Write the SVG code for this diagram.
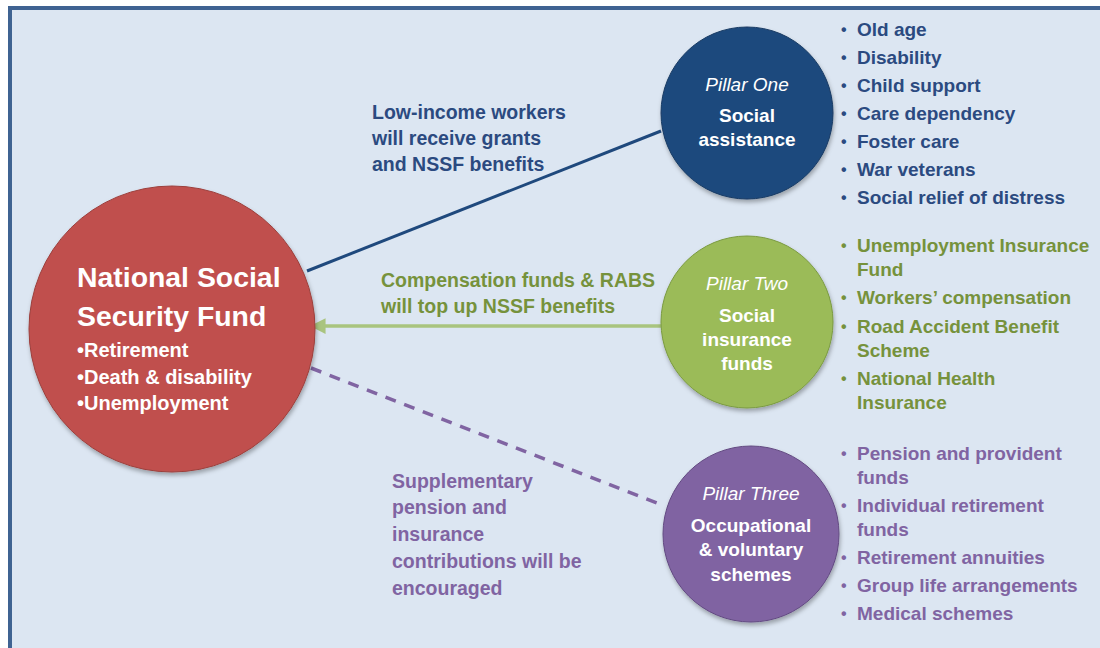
<svg xmlns="http://www.w3.org/2000/svg" width="1100" height="648" viewBox="0 0 1100 648">
<defs>
<filter id="sh" x="-20%" y="-20%" width="140%" height="140%">
<feDropShadow dx="1" dy="3" stdDeviation="2" flood-color="#000" flood-opacity="0.3"/>
</filter>
<marker id="ah" viewBox="0 0 10 10" refX="1" refY="5" markerWidth="4.5" markerHeight="4.5" orient="auto-start-reverse" markerUnits="strokeWidth">
<path d="M0,0 L10,5 L0,10 z" fill="#a9c47f"/>
</marker>
</defs>
<style>
text{font-family:"Liberation Sans",Arial,sans-serif;font-weight:bold;}
.w{fill:#ffffff;}
.c{text-anchor:middle;}
.it{font-style:italic;font-weight:normal;}
.lbl{font-size:19.5px;}
.blue{fill:#2b4a80;}
.green{fill:#76923c;}
.purple{fill:#8064a2;}
.li{font-size:19px;}
.b{font-size:16px;}
</style>
<rect x="10" y="8" width="1200" height="800" fill="#dce6f2" stroke="#3f6392" stroke-width="4"/>
<g id="connectors">
<line x1="307" y1="271" x2="661" y2="131" stroke="#1f497d" stroke-width="3"/>
<line x1="661" y1="326" x2="324" y2="326" stroke="#a9c47f" stroke-width="3.5" marker-end="url(#ah)"/>
<line x1="311" y1="368" x2="657" y2="503" stroke="#8064a2" stroke-width="3.5" stroke-dasharray="11,9"/>
<g class="lbl blue">
<text x="372" y="119">Low-income workers</text>
<text x="372" y="145">will receive grants</text>
<text x="372" y="171">and NSSF benefits</text>
</g>
<g class="lbl green">
<text x="381" y="287">Compensation funds &amp; RABS</text>
<text x="381" y="313">will top up NSSF benefits</text>
</g>
<g class="lbl purple">
<text x="392" y="488">Supplementary</text>
<text x="392" y="514">pension and</text>
<text x="392" y="541">insurance</text>
<text x="392" y="568">contributions will be</text>
<text x="392" y="595">encouraged</text>
</g>
</g>
<g id="nssf">
<circle cx="172" cy="329" r="143" fill="#c0504d" stroke="#9c3f3c" stroke-width="1" filter="url(#sh)"/>
<text class="w" x="77" y="287" font-size="28.4">National Social</text>
<text class="w" x="77" y="326" font-size="28.4">Security Fund</text>
<text class="w" x="77" y="357" font-size="20">•Retirement</text>
<text class="w" x="77" y="384" font-size="20">•Death &amp; disability</text>
<text class="w" x="77" y="410" font-size="20">•Unemployment</text>
</g>
<g id="pillar1">
<circle cx="747" cy="113" r="86" fill="#1f497d" stroke="#173a63" stroke-width="1" filter="url(#sh)"/>
<text class="w c it" x="747" y="91" font-size="19">Pillar One</text>
<text class="w c" x="747" y="122" font-size="19">Social</text>
<text class="w c" x="747" y="146" font-size="19">assistance</text>
</g>
<g id="list1" class="li blue">
<text class="b" x="841" y="35">•</text><text x="857" y="36">Old age</text>
<text class="b" x="841" y="63">•</text><text x="857" y="64">Disability</text>
<text class="b" x="841" y="91">•</text><text x="857" y="92">Child support</text>
<text class="b" x="841" y="119">•</text><text x="857" y="120">Care dependency</text>
<text class="b" x="841" y="147">•</text><text x="857" y="148">Foster care</text>
<text class="b" x="841" y="175">•</text><text x="857" y="176">War veterans</text>
<text class="b" x="841" y="203">•</text><text x="857" y="204">Social relief of distress</text>
</g>
<g id="pillar2">
<circle cx="747" cy="322" r="86" fill="#9bbb59" stroke="#7a9a3f" stroke-width="1" filter="url(#sh)"/>
<text class="w c it" x="747" y="290" font-size="19">Pillar Two</text>
<text class="w c" x="747" y="322" font-size="19">Social</text>
<text class="w c" x="747" y="346" font-size="19">insurance</text>
<text class="w c" x="747" y="370" font-size="19">funds</text>
</g>
<g id="list2" class="li green">
<text class="b" x="841" y="251">•</text><text x="857" y="252">Unemployment Insurance</text>
<text x="857" y="276">Fund</text>
<text class="b" x="841" y="303">•</text><text x="857" y="304">Workers’ compensation</text>
<text class="b" x="841" y="332">•</text><text x="857" y="333">Road Accident Benefit</text>
<text x="857" y="357">Scheme</text>
<text class="b" x="841" y="384">•</text><text x="857" y="385">National Health</text>
<text x="857" y="409">Insurance</text>
</g>
<g id="pillar3">
<circle cx="751" cy="534" r="88" fill="#8064a2" stroke="#634a82" stroke-width="1" filter="url(#sh)"/>
<text class="w c it" x="751" y="500" font-size="19">Pillar Three</text>
<text class="w c" x="751" y="532" font-size="19">Occupational</text>
<text class="w c" x="751" y="556" font-size="19">&amp; voluntary</text>
<text class="w c" x="751" y="581" font-size="19">schemes</text>
</g>
<g id="list3" class="li purple">
<text class="b" x="841" y="459">•</text><text x="857" y="460">Pension and provident</text>
<text x="857" y="484">funds</text>
<text class="b" x="841" y="511">•</text><text x="857" y="512">Individual retirement</text>
<text x="857" y="536">funds</text>
<text class="b" x="841" y="563">•</text><text x="857" y="564">Retirement annuities</text>
<text class="b" x="841" y="591">•</text><text x="857" y="592">Group life arrangements</text>
<text class="b" x="841" y="619">•</text><text x="857" y="620">Medical schemes</text>
</g>
</svg>
